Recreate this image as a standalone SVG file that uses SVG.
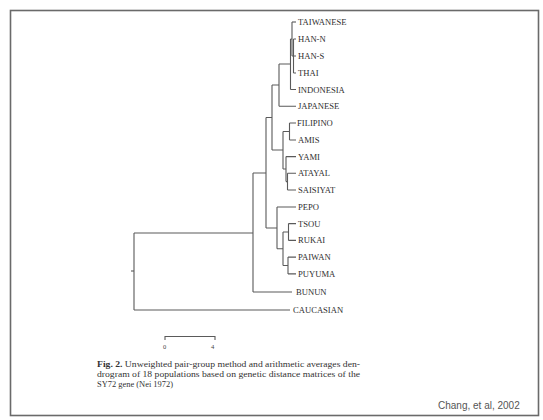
<svg xmlns="http://www.w3.org/2000/svg" width="543" height="420" viewBox="0 0 543 420">
<style>
.ln{stroke:#5a5a5a;stroke-width:1.1;fill:none}
.lb{font-family:"Liberation Serif",serif;font-size:8.6px;fill:#2e2e2e}
.cp{font-family:"Liberation Serif",serif;font-size:8px;fill:#333}
.sc{font-family:"Liberation Serif",serif;font-size:6.5px;fill:#444}
.cr{font-family:"Liberation Sans",sans-serif;font-size:10px;fill:#555}
</style>
<rect x="0" y="0" width="543" height="420" fill="#fff"/>
<rect id="frame" x="10.5" y="10.5" width="528" height="405" fill="none" stroke="#6a6a6a" stroke-width="1.6"/>
<g id="connectors" class="ln">
<!-- Han cluster -->
<path d="M292,22 H296"/>
<path d="M293.5,39 V73 M293.5,39 H296 M293.5,56 H296 M293.5,73 H296"/>
<path d="M292,22 V56 M292,56 H293.5"/>
<path d="M290.5,39 V89.5 M290.5,39 H292 M290.5,89.5 H296"/>
<path d="M279,64 V106.3 M279,64 H290.5 M279,106.3 H296"/>
<!-- Filipino cluster -->
<path d="M289.5,123 V140 M289.5,123 H296 M289.5,140 H296"/>
<path d="M287.5,173.3 V190 M287.5,173.3 H296 M287.5,190 H296"/>
<path d="M286,156.6 V181.6 M286,156.6 H296 M286,181.6 H287.5"/>
<path d="M283,131.5 V169 M283,131.5 H289.5 M283,169 H286"/>
<path d="M272,85 V150 M272,85 H279 M272,150 H283"/>
<!-- Pepo cluster -->
<path d="M288.5,223.6 V240.4 M288.5,223.6 H296 M288.5,240.4 H296"/>
<path d="M288,257.1 V273.9 M288,257.1 H296 M288,273.9 H296"/>
<path d="M283,232 V265.5 M283,232 H288.5 M283,265.5 H288"/>
<path d="M277,207 V248.8 M277,207 H296 M277,248.8 H283"/>
<!-- higher nodes -->
<path d="M266,117.5 V228 M266,117.5 H272 M266,228 H277"/>
<path d="M253,173 V292 M253,173 H266 M253,292 H292"/>
<path d="M134,233 V310 M134,233 H253 M134,310 H290"/>
<path d="M131,271 H134"/>
<!-- scale bar -->
<path d="M165,340 V336.5 H215 V340"/>
</g>
<g id="leaves">
<g id="n-taiwanese"><text class="lb" x="298" y="25">TAIWANESE</text></g>
<g id="n-han-n"><text class="lb" x="298" y="42">HAN-N</text></g>
<g id="n-han-s"><text class="lb" x="298" y="59">HAN-S</text></g>
<g id="n-thai"><text class="lb" x="298" y="76">THAI</text></g>
<g id="n-indonesia"><text class="lb" x="298" y="92.5">INDONESIA</text></g>
<g id="n-japanese"><text class="lb" x="298" y="109.3">JAPANESE</text></g>
<g id="n-filipino"><text class="lb" x="297" y="126">FILIPINO</text></g>
<g id="n-amis"><text class="lb" x="298" y="143">AMIS</text></g>
<g id="n-yami"><text class="lb" x="298" y="159.6">YAMI</text></g>
<g id="n-atayal"><text class="lb" x="298" y="176.3">ATAYAL</text></g>
<g id="n-saisiyat"><text class="lb" x="298" y="193">SAISIYAT</text></g>
<g id="n-pepo"><text class="lb" x="298" y="210">PEPO</text></g>
<g id="n-tsou"><text class="lb" x="298" y="226.6">TSOU</text></g>
<g id="n-rukai"><text class="lb" x="298" y="243.4">RUKAI</text></g>
<g id="n-paiwan"><text class="lb" x="298" y="260.1">PAIWAN</text></g>
<g id="n-puyuma"><text class="lb" x="298" y="276.9">PUYUMA</text></g>
<g id="n-bunun"><text class="lb" x="296" y="295">BUNUN</text></g>
<g id="n-caucasian"><text class="lb" x="293" y="313">CAUCASIAN</text></g>
</g>
<g id="scale">
<text class="sc" x="163" y="349">0</text>
<text class="sc" x="211" y="349">4</text>
</g>
<g id="caption">
<text class="cp" x="97" y="367" textLength="263" lengthAdjust="spacingAndGlyphs"><tspan font-weight="bold">Fig. 2.</tspan> Unweighted pair-group method and arithmetic averages den-</text>
<text class="cp" x="97" y="377" textLength="263" lengthAdjust="spacingAndGlyphs">drogram of 18 populations based on genetic distance matrices of the</text>
<text class="cp" x="97" y="387" textLength="76" lengthAdjust="spacingAndGlyphs">SY72 gene (Nei 1972)</text>
</g>
<text class="cr" x="438" y="409">Chang, et al, 2002</text>
</svg>
